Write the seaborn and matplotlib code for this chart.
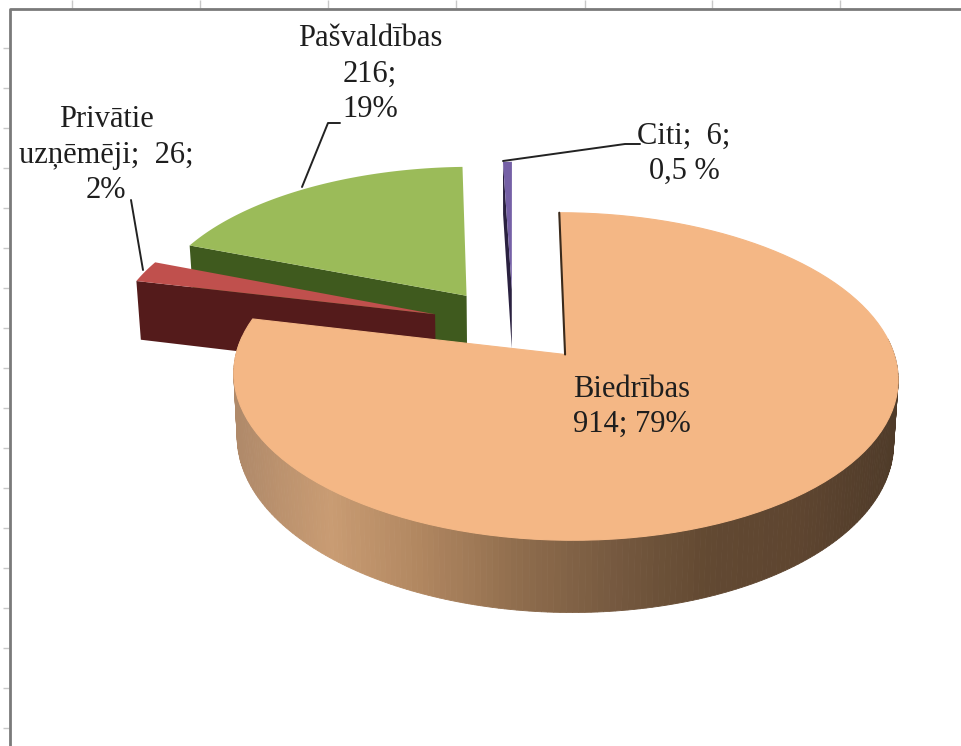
import numpy as np
import matplotlib
matplotlib.use('Agg')
import matplotlib.pyplot as plt
import seaborn as sns

# data
names = ['Biedrības', 'Privātie uzņēmēji', 'Pašvaldības', 'Citi']
values = [914, 26, 216, 6]
labels = ['Biedrības\n914; 79%', 'Privātie\nuzņēmēji;  26;\n2%', 'Pašvaldības\n216;\n19%', 'Citi;  6;\n0,5 %']
top_colors = ['#F4B785', '#C0504D', '#9BBB59', '#7560A6']
wall_colors = ['#3A2A1C', '#541B1B', '#3F5A1E', '#2A2140']
rim_colors = ['#B08A6A', '#C99C73', '#B08660', '#8F6D4D', '#775A40', '#624932', '#5E4530', '#4F3B29']

# fake 3d projection, fitted to the picture
cx, cy = 516, 325
bx, by = 321, 153
persp = 0.131
explode = 0.24
depth = 61
shrink = 0.988
slice_dx = [0, -8, -6, -3]


def project(t, r, mid, drop=False):
    gx = explode * np.sin(mid) + r * np.sin(t)
    gy = explode * np.cos(mid) + r * np.cos(t)
    s = 1 / (1 + persp * gy)
    px = bx * gx * s
    py = -by * gy * s
    if drop:
        return cx + px * shrink, cy + py + depth * s
    return cx + px, cy + py


def wedge(t0, t1, mid):
    ts = np.linspace(t0, t1, 120)
    xs, ys = project(ts, 1, mid)
    ax0, ay0 = project(t0, 0, mid)
    return np.r_[ax0, xs], np.r_[ay0, ys]


def cut_face(t, mid):
    a = project(t, 0, mid)
    b = project(t, 1, mid)
    c = project(t, 1, mid, True)
    d = project(t, 0, mid, True)
    return np.array([a[0], b[0], c[0], d[0]]), [a[1], b[1], c[1], d[1]]


sns.set_theme(style='white')
plt.rcParams['font.family'] = ['Liberation Serif', 'DejaVu Serif']

fig = plt.figure(figsize=(9.61, 7.46), dpi=100)
ax = fig.add_axes([0, 0, 1, 1])
ax.set_xlim(0, 961)
ax.set_ylim(746, 0)
ax.axis('off')

# spreadsheet behind the chart
ax.vlines([72, 200, 328, 456, 585, 712, 840], 0, 8, color='#C8C8C8', lw=1)
ax.hlines(np.arange(48, 746, 40), 3, 9, color='#C8C8C8', lw=1)
ax.plot([10, 10, 961], [746, 9, 9], color='#7A7A7A', lw=2)

angles = np.cumsum([0] + values) / sum(values) * 2 * np.pi
starts, ends = angles[:-1], angles[1:]
mids = (starts + ends) / 2

# small slices back to front
for i in [2, 1, 3]:
    xs, ys = cut_face(starts[i], mids[i])
    ax.fill(xs + slice_dx[i], ys, color=wall_colors[i], lw=0)
    xs, ys = wedge(starts[i], ends[i], mids[i])
    ax.fill(xs + slice_dx[i], ys, color=top_colors[i], lw=0)

# big slice, rim strips first (only the front of the rim shows)
n = 260
pal = sns.blend_palette(rim_colors, n)
edges = np.linspace(starts[0], ends[0], 300)
x_all = project(edges, 1, mids[0])[0]
x_lo, x_hi = x_all.min(), x_all.max()
for a, b in zip(edges[:-1], edges[1:]):
    if np.cos(a) > 0.1:
        continue
    xa, ya = project(a, 1, mids[0])
    xb, yb = project(b, 1, mids[0])
    xc, yc = project(b, 1, mids[0], True)
    xd, yd = project(a, 1, mids[0], True)
    c = pal[int((xa - x_lo) / (x_hi - x_lo) * (n - 1))]
    ax.fill([xa, xb, xc, xd], [ya, yb, yc, yd], color=c, lw=0.6)

xs, ys = wedge(starts[0], ends[0], mids[0])
ax.fill(xs, ys, color=top_colors[0], lw=0.8)
x0, y0 = project(starts[0], 0, mids[0])
x1, y1 = project(starts[0], 1, mids[0])
ax.plot([x0, x1], [y0, y1], color=wall_colors[0], lw=1.5)

# leader lines
ax.plot([302, 328, 340], [187, 123, 123], color='#222222', lw=1.4)
ax.plot([131, 143], [200, 270], color='#222222', lw=1.4)
ax.plot([503, 625, 640], [161, 144, 144], color='#222222', lw=1.4)

text_pos = [(632, 407), (106, 155), (370, 74), (684, 154)]
for lab, (tx, ty) in zip(labels, text_pos):
    ax.text(tx, ty, lab, ha='center', va='center', fontsize=22, color='#1E1E1E', linespacing=1.3)

fig.savefig('out.png', dpi=100)
